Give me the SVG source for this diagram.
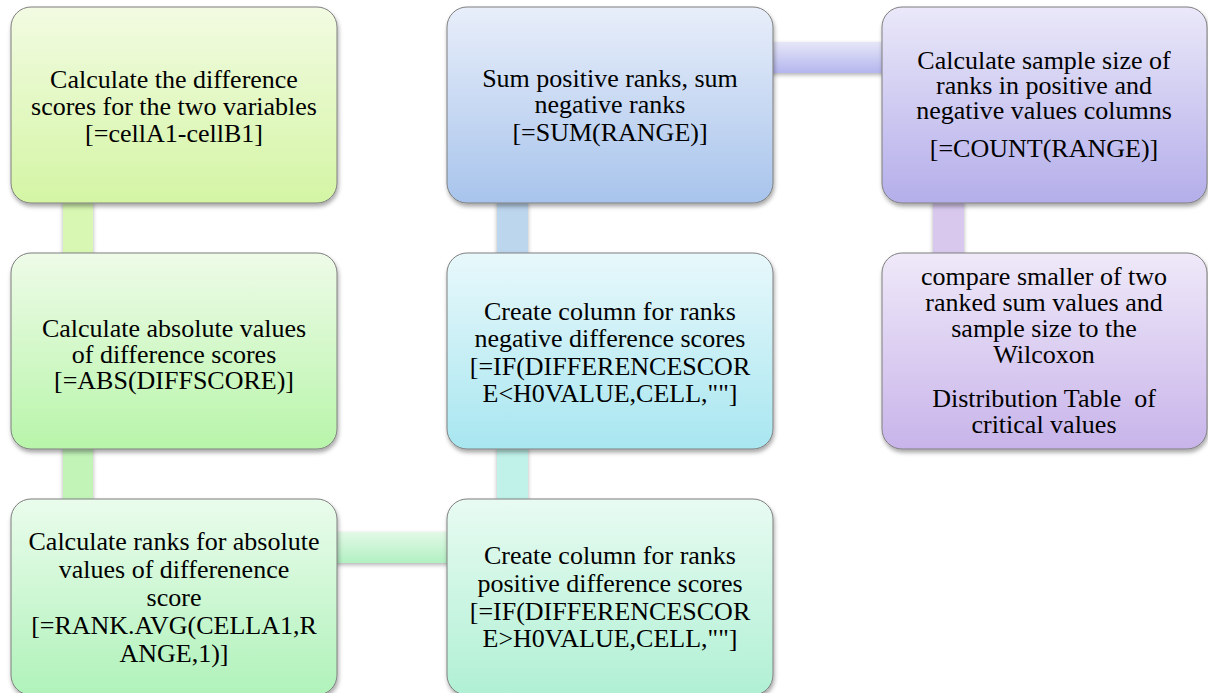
<svg xmlns="http://www.w3.org/2000/svg" width="1208" height="693" viewBox="0 0 1208 693">
<defs>
<filter id="sh" x="-10%" y="-10%" width="120%" height="125%">
<feDropShadow dx="1" dy="3" stdDeviation="2" flood-color="#000" flood-opacity="0.35"/>
</filter>
<filter id="csh" x="-30%" y="-10%" width="160%" height="130%">
<feDropShadow dx="0" dy="2" stdDeviation="2" flood-color="#000" flood-opacity="0.3"/>
</filter>
<linearGradient id="g1" x1="0" y1="0" x2="0" y2="1"><stop offset="0" stop-color="#f2fbe2"/><stop offset="1" stop-color="#d4f5a4"/></linearGradient>
<linearGradient id="g2" x1="0" y1="0" x2="0" y2="1"><stop offset="0" stop-color="#eefbe8"/><stop offset="1" stop-color="#b8f5aa"/></linearGradient>
<linearGradient id="g3" x1="0" y1="0" x2="0" y2="1"><stop offset="0" stop-color="#eafcec"/><stop offset="1" stop-color="#b0f2ba"/></linearGradient>
<linearGradient id="g4" x1="0" y1="0" x2="0" y2="1"><stop offset="0" stop-color="#e8fbf2"/><stop offset="1" stop-color="#b0f0d4"/></linearGradient>
<linearGradient id="g5" x1="0" y1="0" x2="0" y2="1"><stop offset="0" stop-color="#e8f8fb"/><stop offset="1" stop-color="#a8e6f0"/></linearGradient>
<linearGradient id="g6" x1="0" y1="0" x2="0" y2="1"><stop offset="0" stop-color="#e8eefa"/><stop offset="1" stop-color="#a8c4ec"/></linearGradient>
<linearGradient id="g7" x1="0" y1="0" x2="0" y2="1"><stop offset="0" stop-color="#eae8f9"/><stop offset="1" stop-color="#b4aeea"/></linearGradient>
<linearGradient id="g8" x1="0" y1="0" x2="0" y2="1"><stop offset="0" stop-color="#efe9f9"/><stop offset="1" stop-color="#c8b4ea"/></linearGradient>
<linearGradient id="hc1" x1="0" y1="0" x2="0" y2="1"><stop offset="0" stop-color="#e2f9e6"/><stop offset="1" stop-color="#b2f0c2"/></linearGradient>
<linearGradient id="hc2" x1="0" y1="0" x2="0" y2="1"><stop offset="0" stop-color="#e6e6f8"/><stop offset="1" stop-color="#b4b6ee"/></linearGradient>
</defs>
<style>
.node rect { stroke: #7f7f7f; stroke-width: 1; filter: url(#sh); }
.conn rect { filter: url(#csh); }
.t { font-family: 'Liberation Serif', Tinos, 'Times New Roman', 'DejaVu Serif', serif; font-size: 26px; fill: #000; text-anchor: middle; }
</style>
<g id="connectors" class="conn">
<rect x="63" y="200" width="30" height="56" fill="#d8f7b2"/>
<rect x="63" y="446" width="30" height="56" fill="#c2f4b8"/>
<rect x="334" y="532" width="116" height="31" fill="url(#hc1)"/>
<rect x="497" y="446" width="31" height="56" fill="#c0f2ea"/>
<rect x="497" y="200" width="31" height="56" fill="#bcd6ee"/>
<rect x="770" y="42" width="115" height="31" fill="url(#hc2)"/>
<rect x="933" y="200" width="31" height="56" fill="#d8c8ee"/>
</g>
<g id="n1" class="node">
<rect x="11" y="7" width="326" height="196" rx="20" fill="url(#g1)"/>
<text class="t" x="174" y="88">Calculate the difference</text>
<text class="t" x="174" y="115">scores for the two variables</text>
<text class="t" x="174" y="142">[=cellA1-cellB1]</text>
</g>
<g id="n2" class="node">
<rect x="11" y="253" width="326" height="196" rx="20" fill="url(#g2)"/>
<text class="t" x="174" y="337">Calculate absolute values</text>
<text class="t" x="174" y="363">of difference scores</text>
<text class="t" x="174" y="389">[=ABS(DIFFSCORE)]</text>
</g>
<g id="n3" class="node">
<rect x="11" y="499" width="326" height="196" rx="20" fill="url(#g3)"/>
<text class="t" x="174" y="550">Calculate ranks for absolute</text>
<text class="t" x="174" y="578">values of differenence</text>
<text class="t" x="174" y="606">score</text>
<text class="t" x="174" y="634">[=RANK.AVG(CELLA1,R</text>
<text class="t" x="174" y="662">ANGE,1)]</text>
</g>
<g id="n4" class="node">
<rect x="447" y="499" width="326" height="196" rx="20" fill="url(#g4)"/>
<text class="t" x="610" y="564">Create column for ranks</text>
<text class="t" x="610" y="592">positive difference scores</text>
<text class="t" x="610" y="620">[=IF(DIFFERENCESCOR</text>
<text class="t" x="610" y="647">E&gt;H0VALUE,CELL,""]</text>
</g>
<g id="n5" class="node">
<rect x="447" y="253" width="326" height="196" rx="20" fill="url(#g5)"/>
<text class="t" x="610" y="320">Create column for ranks</text>
<text class="t" x="610" y="347">negative difference scores</text>
<text class="t" x="610" y="375">[=IF(DIFFERENCESCOR</text>
<text class="t" x="610" y="402">E&lt;H0VALUE,CELL,""]</text>
</g>
<g id="n6" class="node">
<rect x="447" y="7" width="326" height="196" rx="20" fill="url(#g6)"/>
<text class="t" x="610" y="87">Sum positive ranks, sum</text>
<text class="t" x="610" y="113">negative ranks</text>
<text class="t" x="610" y="141">[=SUM(RANGE)]</text>
</g>
<g id="n7" class="node">
<rect x="882" y="7" width="325" height="196" rx="20" fill="url(#g7)"/>
<text class="t" x="1044" y="69">Calculate sample size of</text>
<text class="t" x="1044" y="94">ranks in positive and</text>
<text class="t" x="1044" y="119">negative values columns</text>
<text class="t" x="1044" y="157">[=COUNT(RANGE)]</text>
</g>
<g id="n8" class="node">
<rect x="882" y="253" width="325" height="196" rx="20" fill="url(#g8)"/>
<text class="t" x="1044" y="285">compare smaller of two</text>
<text class="t" x="1044" y="311">ranked sum values and</text>
<text class="t" x="1044" y="337">sample size to the</text>
<text class="t" x="1044" y="363">Wilcoxon</text>
<text class="t" x="1044" y="407" xml:space="preserve">Distribution Table  of</text>
<text class="t" x="1044" y="433">critical values</text>
</g>
</svg>
